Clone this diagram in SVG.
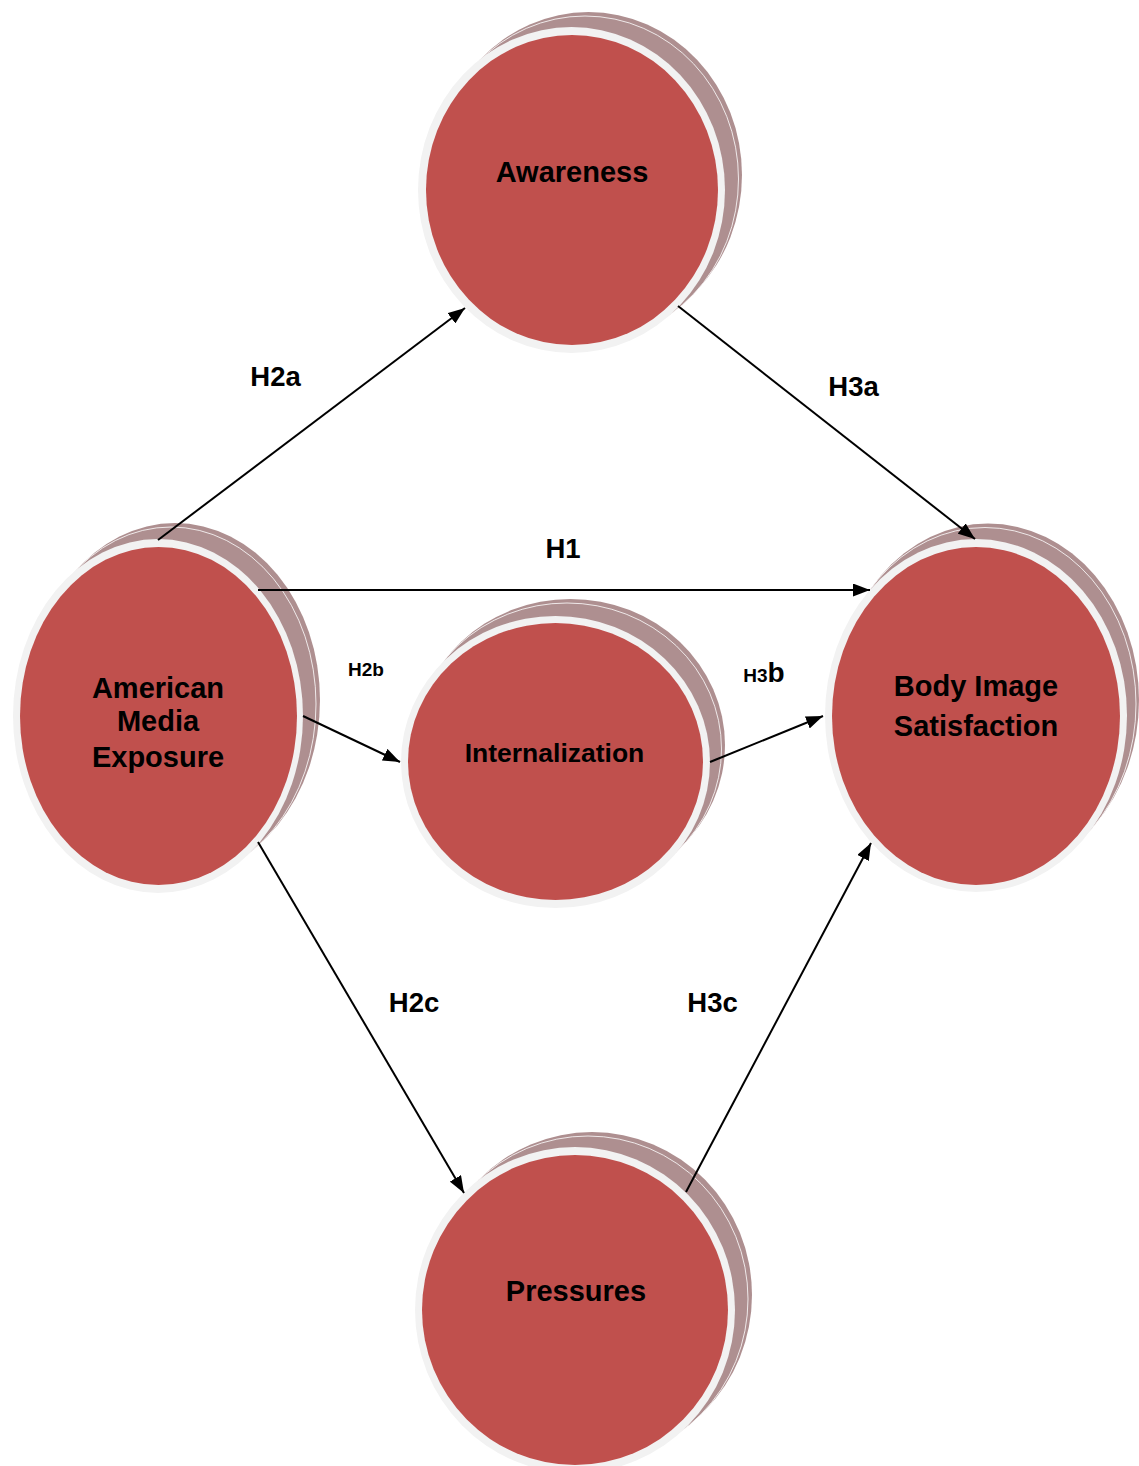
<svg xmlns="http://www.w3.org/2000/svg" width="1139" height="1466" viewBox="0 0 1139 1466">
<style>
.sh{fill:#AE8F90}
.sh2{fill:#AE8F90;stroke:#FFFFFF;stroke-width:0.8}
.ring{fill:#F2F2F2}
.core{fill:#C0504D}
.nt{font-family:"Liberation Sans",Arial,sans-serif;font-weight:bold;font-size:29px;fill:#000;text-anchor:middle}
.lb{font-family:"Liberation Sans",Arial,sans-serif;font-weight:bold;font-size:27.5px;fill:#000;text-anchor:middle}
.cn{stroke:#000;stroke-width:2;fill:none;marker-end:url(#ah)}
</style>
<defs>
<marker id="ah" markerUnits="userSpaceOnUse" markerWidth="17" markerHeight="13" viewBox="0 0 17 13" refX="17" refY="6.5" orient="auto">
<path d="M0,0 L17,6.5 L0,13 Z" fill="#000"/>
</marker>
</defs>
<rect width="1139" height="1466" fill="#FFFFFF"/>

<g id="awareness">
<ellipse class="sh" cx="588.5" cy="175" rx="153.5" ry="163"/>
<ellipse class="sh2" cx="585" cy="179" rx="153.5" ry="163"/>
<ellipse class="ring" cx="571.5" cy="190" rx="153.5" ry="163"/>
<ellipse class="core" cx="572" cy="190" rx="146" ry="155"/>
<text class="nt" x="572" y="182">Awareness</text>
</g>

<g id="american-media-exposure">
<ellipse class="sh" cx="175" cy="700" rx="145" ry="177"/>
<ellipse class="sh2" cx="171" cy="704" rx="145" ry="177"/>
<ellipse class="ring" cx="158" cy="716" rx="145" ry="177"/>
<ellipse class="core" cx="158.5" cy="716" rx="138.5" ry="169"/>
<text class="nt" x="158" y="698">American</text>
<text class="nt" x="158" y="731">Media</text>
<text class="nt" x="158" y="767">Exposure</text>
</g>

<g id="body-image-satisfaction">
<ellipse class="sh" cx="988" cy="700" rx="151" ry="176.5"/>
<ellipse class="sh2" cx="985" cy="704" rx="151" ry="176.5"/>
<ellipse class="ring" cx="976" cy="715.5" rx="151" ry="176.5"/>
<ellipse class="core" cx="976" cy="716" rx="144" ry="169"/>
<text class="nt" x="976" y="696">Body Image</text>
<text class="nt" x="976" y="736">Satisfaction</text>
</g>

<g id="internalization">
<ellipse class="sh" cx="570.5" cy="745" rx="154.5" ry="146"/>
<ellipse class="sh2" cx="567" cy="749" rx="154.5" ry="146"/>
<ellipse class="ring" cx="555.5" cy="762" rx="154.5" ry="146"/>
<ellipse class="core" cx="555.5" cy="761.5" rx="147.5" ry="138.5"/>
<text class="nt" x="554.5" y="762" style="font-size:26.5px">Internalization</text>
</g>

<g id="pressures">
<ellipse class="sh" cx="592" cy="1295" rx="160" ry="163"/>
<ellipse class="sh2" cx="588" cy="1299" rx="160" ry="163"/>
<ellipse class="ring" cx="575" cy="1310" rx="160" ry="163"/>
<ellipse class="core" cx="575" cy="1310" rx="153" ry="155"/>
<text class="nt" x="576" y="1301">Pressures</text>
</g>

<g id="connectors">
<path class="cn" d="M158,540 L465,308"/>
<path class="cn" d="M678,306 L975,539"/>
<path class="cn" d="M258,590 L870,590"/>
<path class="cn" d="M303,716 L400,762"/>
<path class="cn" d="M710,762 L823,716"/>
<path class="cn" d="M258,842 L464,1193"/>
<path class="cn" d="M686,1192 L871,843"/>
</g>

<g id="labels">
<text class="lb" x="275.5" y="386">H2a</text>
<text class="lb" x="853.5" y="396">H3a</text>
<text class="lb" x="563" y="558">H1</text>
<text class="lb" x="366" y="676" style="font-size:19px">H2b</text>
<text class="lb" x="764" y="682" style="font-size:19px"><tspan>H3</tspan><tspan style="font-size:28px">b</tspan></text>
<text class="lb" x="414" y="1012">H2c</text>
<text class="lb" x="712.5" y="1012">H3c</text>
</g>
</svg>
